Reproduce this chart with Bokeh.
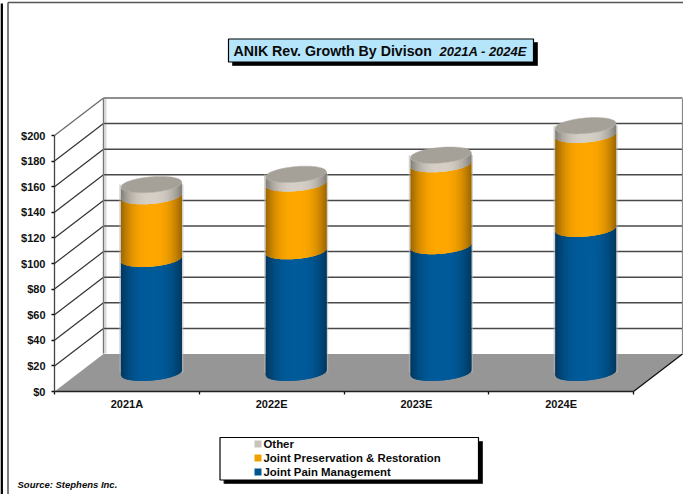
from bokeh.embed import file_html
from bokeh.resources import INLINE
from bokeh.plotting import figure
from bokeh.models import LinearAxis, FixedTicker, Range1d
from bokeh.core.properties import value
import numpy as np

categories = ["2021A", "2022E", "2023E", "2024E"]
joint_pain = [89, 95, 99, 112.5]
joint_preservation = [49, 53, 64, 73.5]
other = [9, 7, 7, 7]
y_ticks = [0, 20, 40, 60, 80, 100, 120, 140, 160, 180, 200]
series_names = ["Other", "Joint Preservation & Restoration", "Joint Pain Management"]
series_colors = {"pain": "#005C9C", "pres": "#FFA800", "other": "#D6D0C6"}
legend_swatches = ["#C9C3B9", "#F0A000", "#00558C"]

W, H = 683, 494
X0, CAT_W = 54.0, 144.75
Y0, PX_PER_USD = 391.0, 1.28
DEPTH_X, DEPTH_Y = 49.0, 37.5
FONT = "Liberation Sans"


def dx(px):
    return (np.asarray(px, dtype=float) - X0) / CAT_W


def dy(py):
    return (Y0 - np.asarray(py, dtype=float)) / PX_PER_USD


p = figure(width=W, height=H, output_backend="svg", toolbar_location=None,
           x_range=Range1d(float(dx(0)), float(dx(W))),
           y_range=Range1d(float(dy(H)), float(dy(0))),
           x_axis_type=None, y_axis_type=None,
           min_border=0, min_border_left=0, min_border_right=0,
           min_border_top=0, min_border_bottom=0, outline_line_color=None)
p.grid.visible = False

shift_x = DEPTH_X / CAT_W
shift_y = DEPTH_Y / PX_PER_USD
n_cat = len(categories)


def poly(pts, **kw):
    p.patch([float(dx(a)) for a, _ in pts], [float(dy(b)) for _, b in pts], **kw)


def seg(x0, y0, x1, y1, color, width, alpha=1.0):
    p.line([float(dx(x0)), float(dx(x1))], [float(dy(y0)), float(dy(y1))],
           line_color=color, line_width=width, line_alpha=alpha)


# Page frame
seg(1.2, 3, 1.2, H, "#000000", 2.5)
seg(7.5, 2, 7.5, H, "#555555", 1.5)
seg(7.5, 2, W, 2, "#555555", 1.5)

# Back wall, floor and side wall of the 3D box
back_left, back_right = X0 + DEPTH_X, X0 + n_cat * CAT_W + DEPTH_X
front_right = X0 + n_cat * CAT_W
poly([(back_left, 98), (back_right, 98), (back_right, 353.5), (back_left, 353.5)],
     fill_color="#FFFFFF", line_color=None)
poly([(back_left + 1, 98), (back_left + 3, 98), (back_left + 3, 353), (back_left + 1, 353)],
     fill_color="#D8D8D8", line_color=None)
poly([(X0, Y0), (front_right, Y0), (back_right, Y0 - DEPTH_Y), (back_left, Y0 - DEPTH_Y)],
     fill_color="#969696", line_color=None)

for t in y_ticks[1:]:
    top = t == y_ticks[-1]
    p.line([shift_x, n_cat + shift_x], [t + shift_y, t + shift_y],
           line_color="#6A6A6A" if top else "#484848", line_width=1.7 if top else 1.5)
    p.line([0, shift_x], [t, t + shift_y],
           line_color="#666666" if top else "#333333", line_width=1.2)
seg(back_left, 98, back_left, 353, "#777777", 1.4)
seg(back_right, 98, back_right, 353, "#888888", 1.2)
seg(front_right, Y0, back_right, Y0 - DEPTH_Y, "#111111", 1.3)

# Stacked cylinders: narrow shaded strips painted left to right, each one
# overlapping the next so no seams show between them
HALF_W, SEMI_MINOR, TILT = 30.5, 7.8, -5.0 / 61.0
N_STRIPS = 44
edges = np.linspace(-HALF_W, HALF_W, N_STRIPS + 1)


def shade(hex_color, u):
    rgb = np.array([int(hex_color[i:i + 2], 16) for i in (1, 3, 5)], dtype=float)
    k = 1 - 0.4 * abs(u / HALF_W) ** 2.6
    r, g, b = (rgb * k).astype(int)
    return f"#{r:02x}{g:02x}{b:02x}"


def rim_y(u, cy, sign):
    return cy + sign * SEMI_MINOR * np.sqrt(np.clip(1 - (u / HALF_W) ** 2, 0, 1)) + TILT * u


for i in range(n_cat):
    cx = X0 + (i + 0.5) * CAT_W + DEPTH_X / 2
    levels = np.cumsum([0, joint_pain[i], joint_preservation[i], other[i]])
    centers = Y0 - DEPTH_Y / 2 - levels * PX_PER_USD
    # Faint halo where the gridlines meet the cylinder
    for side in (-1, 1):
        edge_x = cx + side * (HALF_W + 0.8)
        seg(edge_x, centers[-1], edge_x, centers[0], "#B5B5B5", 1.6, 0.6)
    for j, key in enumerate(["pain", "pres", "other"]):
        for k in range(N_STRIPS):
            u0 = edges[k]
            us = np.linspace(u0, min(edges[k + 1] + 1.5, HALF_W), 4)
            sx = np.concatenate([cx + us, (cx + us)[::-1]])
            sy = np.concatenate([rim_y(us, centers[j], 1), rim_y(us, centers[j + 1], 1)[::-1]])
            p.patch(dx(sx), dy(sy), fill_color=shade(series_colors[key], (u0 + edges[k + 1]) / 2),
                    line_color=None)
    # Cylinder lid
    u = np.linspace(-HALF_W, HALF_W, 60)
    lid_x = np.concatenate([cx + u, (cx + u)[::-1]])
    lid_y = np.concatenate([rim_y(u, centers[-1], -1), rim_y(u, centers[-1], 1)[::-1]])
    p.patch(dx(lid_x), dy(lid_y), fill_color="#A5A198", line_color="#B0ACA4", line_width=0.5)

# Axes placed at the front corner of the box
yaxis = LinearAxis(fixed_location=0, bounds=(0, 200),
                   ticker=FixedTicker(ticks=y_ticks),
                   major_label_overrides={t: f"${t}" for t in y_ticks})
yaxis.axis_line_color = "#444444"
yaxis.axis_line_width = 1.3
yaxis.major_tick_line_color = "#111111"
yaxis.major_tick_line_width = 1.3
yaxis.major_tick_in = 0
yaxis.major_tick_out = 3
yaxis.minor_tick_line_color = None
yaxis.major_label_standoff = 6
yaxis.major_label_text_font = FONT
yaxis.major_label_text_font_style = "bold"
yaxis.major_label_text_font_size = "11px"
yaxis.major_label_text_color = "#111111"
p.add_layout(yaxis, "left")

mid_ticks = [i + 0.5 for i in range(n_cat)]
xaxis = LinearAxis(fixed_location=0, bounds=(0, n_cat),
                   ticker=FixedTicker(ticks=mid_ticks, minor_ticks=list(range(n_cat + 1))),
                   major_label_overrides=dict(zip(mid_ticks, categories)))
xaxis.axis_line_color = "#222222"
xaxis.axis_line_width = 1.5
xaxis.major_tick_line_color = None
xaxis.minor_tick_line_color = "#111111"
xaxis.minor_tick_line_width = 1.3
xaxis.minor_tick_in = 0
xaxis.minor_tick_out = 3
xaxis.major_label_standoff = 0
xaxis.major_label_text_font = FONT
xaxis.major_label_text_font_style = "bold"
xaxis.major_label_text_font_size = "11px"
xaxis.major_label_text_color = "#111111"
p.add_layout(xaxis, "below")


def label(x, y, s, size, style="bold"):
    p.text([float(dx(x))], [float(dy(y))], text=[s], text_font=value(FONT),
           text_font_size=f"{size}px", text_font_style=style, text_color="#0A0A0A",
           text_baseline="middle", text_align="left")


def box(l, t, r, b, fill):
    p.quad(left=[float(dx(l))], right=[float(dx(r))], top=[float(dy(t))], bottom=[float(dy(b))],
           fill_color=fill, line_color="#000000", line_width=1.2)


# Title
p.quad(left=[float(dx(232))], right=[float(dx(537))], top=[float(dy(42))], bottom=[float(dy(65))],
       fill_color="#000000", line_color="#333333", line_width=1)
box(228, 38.5, 533, 61.5, "#B5E5FB")
label(233, 50, "ANIK Rev. Growth By Divison", 14.2)
label(439, 50.5, "2021A - 2024E", 13, "bold italic")

# Legend
p.quad(left=[float(dx(223.5))], right=[float(dx(482))], top=[float(dy(441))], bottom=[float(dy(483))],
       fill_color="#000000", line_color="#333333", line_width=1)
box(219.5, 437, 478, 479.5, "#FFFFFF")
for row, (name, swatch) in enumerate(zip(series_names, legend_swatches)):
    yc = 443.5 + 14 * row
    p.quad(left=[float(dx(254))], right=[float(dx(261))], top=[float(dy(yc - 3.5))], bottom=[float(dy(yc + 3.5))],
           fill_color=swatch, line_color=None)
    label(263, yc, name, 11.4)

label(17, 483.5, "Source:  Stephens Inc.", 9.5, "bold italic")

open("out.html", "w").write(file_html(p, INLINE))
